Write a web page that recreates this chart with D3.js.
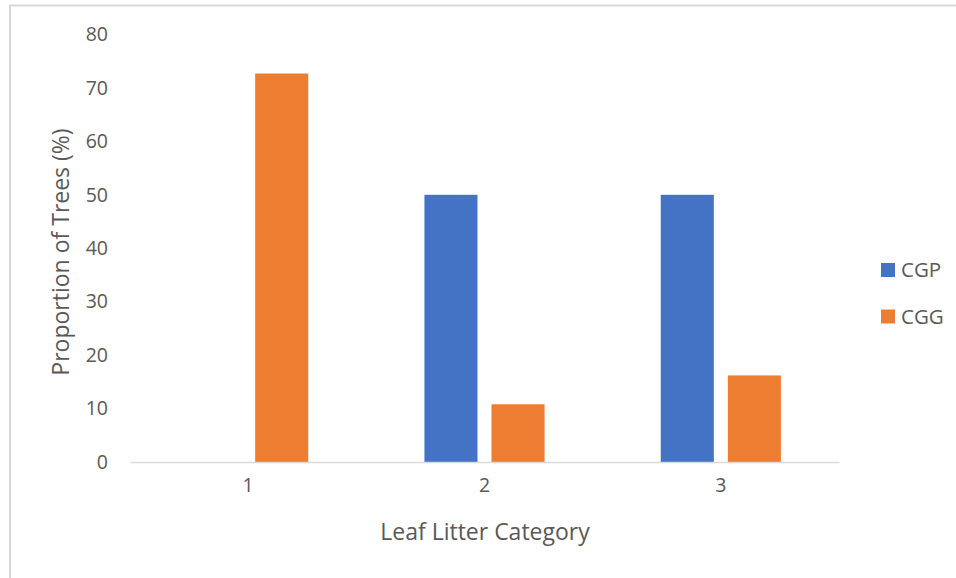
<!DOCTYPE html>
<html>
<head>
<meta charset="utf-8">
<script src="https://cdn.jsdelivr.net/npm/d3@7"></script>
<style>
  html, body { margin: 0; padding: 0; background: #fff; }
  svg { display: block; }
  text { font-family: "Open Sans", "Liberation Sans", sans-serif; fill: #595959; }
</style>
</head>
<body>
<svg id="chart" width="956" height="578"></svg>
<script>
// Leaf litter categories and the share of trees (%) in each group
const categories = ["1", "2", "3"];
const seriesNames = ["CGP", "CGG"];
const cgpValues = [0, 50, 50];
const cggValues = [72.7, 10.8, 16.2];
const yTicks = [0, 10, 20, 30, 40, 50, 60, 70, 80];
const colors = { CGP: "#4472C4", CGG: "#ED7D31" };

const rows = categories.map((c, i) => ({ category: c, CGP: cgpValues[i], CGG: cggValues[i] }));

const svg = d3.select("#chart");
const W = 956, H = 578;

// chart-area frame (left and top edges visible)
svg.append("path")
  .attr("d", `M10,${H} L10,5.5 L${W},5.5`)
  .attr("fill", "none")
  .attr("stroke", "#d9d9d9")
  .attr("stroke-width", 2);

const plot = { left: 130, right: 839, top: 34.5, bottom: 462 };

const x0 = d3.scaleBand().domain(categories).range([plot.left, plot.right]).padding(0);
const x1 = d3.scaleBand().domain(seriesNames).range([0, x0.bandwidth()])
  .paddingInner(0.209).paddingOuter(0.866);
const y = d3.scaleLinear().domain([0, 80]).range([plot.bottom, plot.top]);

// y-axis tick labels (no axis line, no gridlines)
const yAxis = d3.axisLeft(y).tickValues(yTicks).tickSize(0).tickPadding(0);
const yg = svg.append("g").attr("transform", `translate(108,0)`).call(yAxis);
yg.select(".domain").remove();
yg.selectAll("text").style("font-size", "19.5px").attr("fill", "#595959").attr("dx", 0);

// bars
const groups = svg.append("g").selectAll("g").data(rows).join("g")
  .attr("transform", d => `translate(${x0(d.category)},0)`);
groups.selectAll("rect")
  .data(d => seriesNames.map(s => ({ key: s, value: d[s] })))
  .join("rect")
  .attr("x", d => x1(d.key))
  .attr("width", x1.bandwidth())
  .attr("y", d => y(d.value))
  .attr("height", d => y(0) - y(d.value))
  .attr("fill", d => colors[d.key]);

// x axis
const xAxis = d3.axisBottom(x0).tickSize(0).tickPadding(0);
const xg = svg.append("g").attr("transform", `translate(0,${plot.bottom})`).call(xAxis);
xg.select(".domain").attr("stroke", "#d9d9d9").attr("stroke-width", 1.5);
xg.selectAll("text").style("font-size", "19.5px").attr("fill", "#595959").attr("dy", "1.55em");

// axis titles
svg.append("text")
  .attr("x", 485).attr("y", 540)
  .attr("text-anchor", "middle")
  .style("font-size", "23px")
  .text("Leaf Litter Category");

svg.append("text")
  .attr("transform", "translate(69,252) rotate(-90)")
  .attr("text-anchor", "middle")
  .style("font-size", "23px")
  .text("Proportion of Trees (%)");

// legend
const legend = svg.append("g").selectAll("g").data(seriesNames).join("g")
  .attr("transform", (d, i) => `translate(881,${263 + i * 46.5})`);
legend.append("rect").attr("width", 14).attr("height", 14).attr("fill", d => colors[d]);
legend.append("text").attr("x", 20).attr("y", 7).attr("dy", "0.35em")
  .style("font-size", "20.5px").text(d => d);
</script>
</body>
</html>
